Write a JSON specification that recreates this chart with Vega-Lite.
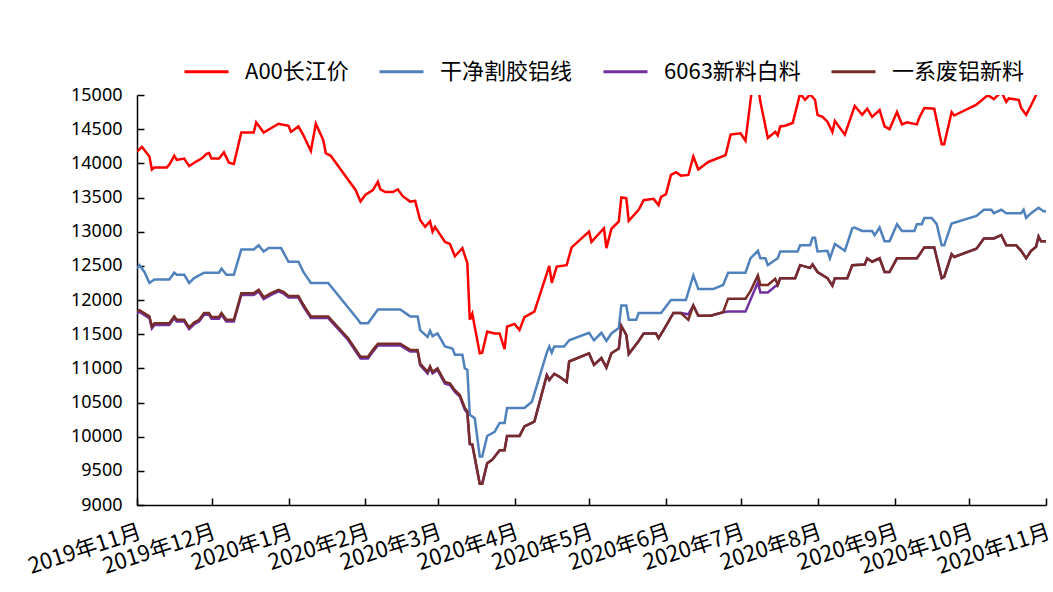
{
  "$schema": "https://vega.github.io/schema/vega-lite/v6.json",
  "width": 909,
  "height": 410,
  "autosize": {"type": "none"},
  "padding": {"left": 137, "top": 95, "right": 7, "bottom": 87},
  "background": "white",
  "datasets": {
    "red": [
      {"d":"2019-11-01","v":14170},{"d":"2019-11-03","v":14240},{"d":"2019-11-06","v":14100},{"d":"2019-11-07","v":13910},{"d":"2019-11-08","v":13940},{"d":"2019-11-13","v":13940},{"d":"2019-11-14","v":13980},{"d":"2019-11-16","v":14110},{"d":"2019-11-17","v":14050},{"d":"2019-11-20","v":14070},{"d":"2019-11-22","v":13960},{"d":"2019-11-25","v":14030},{"d":"2019-11-27","v":14070},{"d":"2019-11-29","v":14140},{"d":"2019-11-30","v":14150},
      {"d":"2019-12-01","v":14070},{"d":"2019-12-04","v":14070},{"d":"2019-12-06","v":14160},{"d":"2019-12-08","v":14010},{"d":"2019-12-10","v":13990},{"d":"2019-12-13","v":14450},{"d":"2019-12-18","v":14450},{"d":"2019-12-19","v":14600},{"d":"2019-12-22","v":14450},{"d":"2019-12-28","v":14580},
      {"d":"2020-01-01","v":14550},{"d":"2020-01-02","v":14460},{"d":"2020-01-05","v":14540},{"d":"2020-01-07","v":14410},{"d":"2020-01-10","v":14180},{"d":"2020-01-12","v":14580},{"d":"2020-01-15","v":14340},{"d":"2020-01-16","v":14150},{"d":"2020-01-18","v":14110},{"d":"2020-01-28","v":13610},{"d":"2020-01-30","v":13440},
      {"d":"2020-02-01","v":13540},{"d":"2020-02-04","v":13610},{"d":"2020-02-06","v":13730},{"d":"2020-02-07","v":13620},{"d":"2020-02-09","v":13580},{"d":"2020-02-12","v":13580},{"d":"2020-02-14","v":13620},{"d":"2020-02-16","v":13520},{"d":"2020-02-19","v":13440},{"d":"2020-02-21","v":13450},{"d":"2020-02-23","v":13170},{"d":"2020-02-25","v":13070},{"d":"2020-02-27","v":13150},{"d":"2020-02-28","v":13000},{"d":"2020-02-29","v":13070},
      {"d":"2020-03-04","v":12850},{"d":"2020-03-06","v":12820},{"d":"2020-03-08","v":12640},{"d":"2020-03-11","v":12760},{"d":"2020-03-13","v":12540},{"d":"2020-03-14","v":11710},{"d":"2020-03-15","v":11800},{"d":"2020-03-18","v":11220},{"d":"2020-03-19","v":11230},{"d":"2020-03-21","v":11540},{"d":"2020-03-24","v":11510},{"d":"2020-03-26","v":11510},{"d":"2020-03-28","v":11280},{"d":"2020-03-29","v":11610},
      {"d":"2020-04-01","v":11650},{"d":"2020-04-03","v":11560},{"d":"2020-04-05","v":11750},{"d":"2020-04-09","v":11830},{"d":"2020-04-15","v":12500},{"d":"2020-04-16","v":12250},{"d":"2020-04-18","v":12490},{"d":"2020-04-22","v":12510},{"d":"2020-04-24","v":12770},
      {"d":"2020-05-01","v":13000},{"d":"2020-05-02","v":12850},{"d":"2020-05-07","v":13050},{"d":"2020-05-08","v":12760},{"d":"2020-05-10","v":13040},{"d":"2020-05-13","v":13150},{"d":"2020-05-14","v":13500},{"d":"2020-05-16","v":13490},{"d":"2020-05-17","v":13160},{"d":"2020-05-21","v":13320},{"d":"2020-05-23","v":13460},{"d":"2020-05-27","v":13480},{"d":"2020-05-29","v":13390},{"d":"2020-05-30","v":13510},
      {"d":"2020-06-01","v":13550},{"d":"2020-06-03","v":13830},{"d":"2020-06-05","v":13870},{"d":"2020-06-07","v":13820},{"d":"2020-06-10","v":13830},{"d":"2020-06-12","v":14100},{"d":"2020-06-14","v":13910},{"d":"2020-06-18","v":14020},{"d":"2020-06-25","v":14120},{"d":"2020-06-27","v":14420},
      {"d":"2020-07-01","v":14440},{"d":"2020-07-03","v":14330},{"d":"2020-07-06","v":15200},{"d":"2020-07-08","v":15150},{"d":"2020-07-09","v":14900},{"d":"2020-07-12","v":14370},{"d":"2020-07-15","v":14460},{"d":"2020-07-16","v":14410},{"d":"2020-07-17","v":14540},{"d":"2020-07-19","v":14550},{"d":"2020-07-22","v":14590},{"d":"2020-07-25","v":15020},{"d":"2020-07-27","v":14930},{"d":"2020-07-29","v":15010},{"d":"2020-07-31","v":14930},
      {"d":"2020-08-01","v":14710},{"d":"2020-08-03","v":14680},{"d":"2020-08-05","v":14610},{"d":"2020-08-07","v":14460},{"d":"2020-08-08","v":14620},{"d":"2020-08-12","v":14420},{"d":"2020-08-16","v":14840},{"d":"2020-08-19","v":14710},{"d":"2020-08-21","v":14800},{"d":"2020-08-23","v":14680},{"d":"2020-08-26","v":14780},{"d":"2020-08-28","v":14540},{"d":"2020-08-30","v":14500},
      {"d":"2020-09-02","v":14750},{"d":"2020-09-04","v":14570},{"d":"2020-09-06","v":14600},{"d":"2020-09-10","v":14570},{"d":"2020-09-11","v":14670},{"d":"2020-09-13","v":14810},{"d":"2020-09-17","v":14800},{"d":"2020-09-20","v":14280},{"d":"2020-09-21","v":14280},{"d":"2020-09-24","v":14750},{"d":"2020-09-25","v":14700},
      {"d":"2020-10-04","v":14860},{"d":"2020-10-08","v":14980},{"d":"2020-10-09","v":14990},{"d":"2020-10-11","v":14940},{"d":"2020-10-13","v":15010},{"d":"2020-10-14","v":15050},{"d":"2020-10-16","v":14900},{"d":"2020-10-17","v":14950},{"d":"2020-10-21","v":14930},{"d":"2020-10-22","v":14810},{"d":"2020-10-24","v":14710},{"d":"2020-10-26","v":14850},{"d":"2020-10-28","v":15000},{"d":"2020-10-30","v":15150},{"d":"2020-11-01","v":15250}
    ],
    "blue": [
      {"d":"2019-11-01","v":12460},{"d":"2019-11-02","v":12510},{"d":"2019-11-04","v":12410},{"d":"2019-11-06","v":12250},{"d":"2019-11-08","v":12300},{"d":"2019-11-14","v":12300},{"d":"2019-11-16","v":12400},{"d":"2019-11-17","v":12370},{"d":"2019-11-20","v":12370},{"d":"2019-11-22","v":12250},{"d":"2019-11-24","v":12320},{"d":"2019-11-28","v":12400},
      {"d":"2019-12-04","v":12400},{"d":"2019-12-05","v":12460},{"d":"2019-12-07","v":12370},{"d":"2019-12-10","v":12370},{"d":"2019-12-13","v":12740},{"d":"2019-12-18","v":12740},{"d":"2019-12-20","v":12800},{"d":"2019-12-22","v":12710},{"d":"2019-12-24","v":12760},{"d":"2019-12-29","v":12760},
      {"d":"2020-01-01","v":12560},{"d":"2020-01-05","v":12560},{"d":"2020-01-07","v":12410},{"d":"2020-01-10","v":12250},{"d":"2020-01-17","v":12250},{"d":"2020-01-29","v":11710},{"d":"2020-01-30","v":11660},
      {"d":"2020-02-02","v":11660},{"d":"2020-02-04","v":11760},{"d":"2020-02-06","v":11860},{"d":"2020-02-15","v":11860},{"d":"2020-02-19","v":11760},{"d":"2020-02-22","v":11760},{"d":"2020-02-23","v":11560},{"d":"2020-02-26","v":11460},{"d":"2020-02-27","v":11550},{"d":"2020-02-28","v":11470},
      {"d":"2020-03-01","v":11510},{"d":"2020-03-04","v":11320},{"d":"2020-03-07","v":11290},{"d":"2020-03-08","v":11200},{"d":"2020-03-11","v":11200},{"d":"2020-03-12","v":11000},{"d":"2020-03-13","v":10980},{"d":"2020-03-14","v":10320},{"d":"2020-03-16","v":10270},{"d":"2020-03-18","v":9710},{"d":"2020-03-19","v":9710},{"d":"2020-03-21","v":10010},{"d":"2020-03-24","v":10070},{"d":"2020-03-26","v":10200},{"d":"2020-03-28","v":10200},{"d":"2020-03-29","v":10420},
      {"d":"2020-04-05","v":10420},{"d":"2020-04-08","v":10510},{"d":"2020-04-14","v":11230},{"d":"2020-04-15","v":11320},{"d":"2020-04-16","v":11230},{"d":"2020-04-17","v":11320},{"d":"2020-04-21","v":11320},{"d":"2020-04-23","v":11410},
      {"d":"2020-05-01","v":11520},{"d":"2020-05-03","v":11410},{"d":"2020-05-06","v":11520},{"d":"2020-05-08","v":11400},{"d":"2020-05-10","v":11510},{"d":"2020-05-13","v":11590},{"d":"2020-05-14","v":11920},{"d":"2020-05-16","v":11920},{"d":"2020-05-17","v":11710},{"d":"2020-05-20","v":11710},{"d":"2020-05-21","v":11810},{"d":"2020-05-30","v":11810},
      {"d":"2020-06-03","v":12000},{"d":"2020-06-09","v":12000},{"d":"2020-06-12","v":12360},{"d":"2020-06-14","v":12160},{"d":"2020-06-20","v":12160},{"d":"2020-06-24","v":12220},{"d":"2020-06-26","v":12400},
      {"d":"2020-07-03","v":12400},{"d":"2020-07-05","v":12610},{"d":"2020-07-08","v":12720},{"d":"2020-07-09","v":12610},{"d":"2020-07-11","v":12610},{"d":"2020-07-12","v":12510},{"d":"2020-07-16","v":12610},{"d":"2020-07-17","v":12710},{"d":"2020-07-24","v":12710},{"d":"2020-07-25","v":12800},{"d":"2020-07-29","v":12800},{"d":"2020-07-30","v":12910},{"d":"2020-07-31","v":12910},
      {"d":"2020-08-01","v":12710},{"d":"2020-08-05","v":12720},{"d":"2020-08-06","v":12610},{"d":"2020-08-08","v":12820},{"d":"2020-08-12","v":12720},{"d":"2020-08-15","v":13050},{"d":"2020-08-16","v":13060},{"d":"2020-08-19","v":13010},{"d":"2020-08-23","v":13010},{"d":"2020-08-24","v":12950},{"d":"2020-08-26","v":13060},{"d":"2020-08-28","v":12860},{"d":"2020-08-30","v":12860},
      {"d":"2020-09-02","v":13110},{"d":"2020-09-04","v":13010},{"d":"2020-09-09","v":13010},{"d":"2020-09-10","v":13110},{"d":"2020-09-12","v":13110},{"d":"2020-09-13","v":13200},{"d":"2020-09-16","v":13200},{"d":"2020-09-18","v":13110},{"d":"2020-09-20","v":12800},{"d":"2020-09-21","v":12800},{"d":"2020-09-24","v":13120},
      {"d":"2020-10-04","v":13230},{"d":"2020-10-07","v":13320},{"d":"2020-10-10","v":13320},{"d":"2020-10-11","v":13270},{"d":"2020-10-14","v":13320},{"d":"2020-10-16","v":13270},{"d":"2020-10-22","v":13270},{"d":"2020-10-23","v":13320},{"d":"2020-10-24","v":13200},{"d":"2020-10-26","v":13270},{"d":"2020-10-29","v":13350},{"d":"2020-10-31","v":13300},{"d":"2020-11-01","v":13300}
    ],
    "purple": [
      {"d":"2019-11-01","v":11805},{"d":"2019-11-02","v":11825},{"d":"2019-11-06","v":11735},{"d":"2019-11-07","v":11585},{"d":"2019-11-08","v":11635},{"d":"2019-11-14","v":11635},{"d":"2019-11-16","v":11735},{"d":"2019-11-17","v":11685},{"d":"2019-11-20","v":11685},{"d":"2019-11-22","v":11575},{"d":"2019-11-24","v":11645},{"d":"2019-11-26","v":11685},{"d":"2019-11-28","v":11785},{"d":"2019-11-30","v":11785},
      {"d":"2019-12-01","v":11725},{"d":"2019-12-04","v":11725},{"d":"2019-12-05","v":11785},{"d":"2019-12-07","v":11685},{"d":"2019-12-10","v":11685},{"d":"2019-12-13","v":12075},{"d":"2019-12-18","v":12075},{"d":"2019-12-20","v":12125},{"d":"2019-12-22","v":12015},{"d":"2019-12-25","v":12075},{"d":"2019-12-28","v":12125},{"d":"2019-12-30","v":12095},
      {"d":"2020-01-01","v":12035},{"d":"2020-01-05","v":12035},{"d":"2020-01-07","v":11905},{"d":"2020-01-10","v":11735},{"d":"2020-01-17","v":11735},{"d":"2020-01-25","v":11415},{"d":"2020-01-30","v":11145},
      {"d":"2020-02-02","v":11145},{"d":"2020-02-04","v":11245},{"d":"2020-02-06","v":11335},{"d":"2020-02-15","v":11335},{"d":"2020-02-19","v":11245},{"d":"2020-02-22","v":11245},{"d":"2020-02-23","v":11045},{"d":"2020-02-26","v":10925},{"d":"2020-02-27","v":11005},{"d":"2020-02-28","v":10925},
      {"d":"2020-03-01","v":10975},{"d":"2020-03-04","v":10775},{"d":"2020-03-06","v":10755},{"d":"2020-03-08","v":10655},{"d":"2020-03-10","v":10585},{"d":"2020-03-12","v":10395},{"d":"2020-03-13","v":10345},{"d":"2020-03-14","v":9890},{"d":"2020-03-15","v":9880},{"d":"2020-03-18","v":9310},{"d":"2020-03-19","v":9310},{"d":"2020-03-21","v":9610},{"d":"2020-03-23","v":9660},{"d":"2020-03-26","v":9800},{"d":"2020-03-28","v":9800},{"d":"2020-03-29","v":10010},
      {"d":"2020-04-03","v":10010},{"d":"2020-04-05","v":10150},{"d":"2020-04-09","v":10220},{"d":"2020-04-14","v":10900},{"d":"2020-04-15","v":10830},{"d":"2020-04-17","v":10920},{"d":"2020-04-19","v":10880},{"d":"2020-04-22","v":10800},{"d":"2020-04-23","v":11100},
      {"d":"2020-05-01","v":11220},{"d":"2020-05-03","v":11050},{"d":"2020-05-06","v":11150},{"d":"2020-05-08","v":11010},{"d":"2020-05-10","v":11220},{"d":"2020-05-13","v":11290},{"d":"2020-05-14","v":11620},{"d":"2020-05-16","v":11490},{"d":"2020-05-17","v":11210},{"d":"2020-05-21","v":11400},{"d":"2020-05-23","v":11510},{"d":"2020-05-28","v":11510},{"d":"2020-05-29","v":11440},{"d":"2020-05-31","v":11560},
      {"d":"2020-06-04","v":11810},{"d":"2020-06-07","v":11810},{"d":"2020-06-10","v":11790},{"d":"2020-06-12","v":11920},{"d":"2020-06-14","v":11770},{"d":"2020-06-19","v":11770},{"d":"2020-06-24","v":11820},{"d":"2020-06-26","v":11830},
      {"d":"2020-07-03","v":11830},{"d":"2020-07-08","v":12260},{"d":"2020-07-09","v":12110},{"d":"2020-07-12","v":12110},{"d":"2020-07-15","v":12200},{"d":"2020-07-16","v":12220},{"d":"2020-07-17","v":12320},{"d":"2020-07-23","v":12320},{"d":"2020-07-25","v":12510},{"d":"2020-07-29","v":12470},{"d":"2020-07-30","v":12520},
      {"d":"2020-08-01","v":12410},{"d":"2020-08-05","v":12320},{"d":"2020-08-07","v":12210},{"d":"2020-08-08","v":12320},{"d":"2020-08-13","v":12320},{"d":"2020-08-15","v":12510},{"d":"2020-08-20","v":12520},{"d":"2020-08-21","v":12610},{"d":"2020-08-23","v":12560},{"d":"2020-08-26","v":12610},{"d":"2020-08-28","v":12410},{"d":"2020-08-30","v":12410},
      {"d":"2020-09-02","v":12610},{"d":"2020-09-10","v":12610},{"d":"2020-09-11","v":12660},{"d":"2020-09-13","v":12770},{"d":"2020-09-17","v":12770},{"d":"2020-09-20","v":12320},{"d":"2020-09-21","v":12340},{"d":"2020-09-24","v":12670},{"d":"2020-09-25","v":12630},
      {"d":"2020-10-04","v":12750},{"d":"2020-10-07","v":12900},{"d":"2020-10-11","v":12900},{"d":"2020-10-14","v":12950},{"d":"2020-10-16","v":12800},{"d":"2020-10-20","v":12800},{"d":"2020-10-22","v":12720},{"d":"2020-10-24","v":12610},{"d":"2020-10-26","v":12720},{"d":"2020-10-28","v":12780},{"d":"2020-10-29","v":12930},{"d":"2020-10-30","v":12860},{"d":"2020-11-01","v":12860}
    ],
    "brown": [
      {"d":"2019-11-01","v":11830},{"d":"2019-11-02","v":11850},{"d":"2019-11-06","v":11760},{"d":"2019-11-07","v":11610},{"d":"2019-11-08","v":11660},{"d":"2019-11-14","v":11660},{"d":"2019-11-16","v":11760},{"d":"2019-11-17","v":11710},{"d":"2019-11-20","v":11710},{"d":"2019-11-22","v":11600},{"d":"2019-11-24","v":11670},{"d":"2019-11-26","v":11710},{"d":"2019-11-28","v":11810},{"d":"2019-11-30","v":11810},
      {"d":"2019-12-01","v":11750},{"d":"2019-12-04","v":11750},{"d":"2019-12-05","v":11810},{"d":"2019-12-07","v":11710},{"d":"2019-12-10","v":11710},{"d":"2019-12-13","v":12100},{"d":"2019-12-18","v":12100},{"d":"2019-12-20","v":12150},{"d":"2019-12-22","v":12040},{"d":"2019-12-25","v":12100},{"d":"2019-12-28","v":12150},{"d":"2019-12-30","v":12120},
      {"d":"2020-01-01","v":12060},{"d":"2020-01-05","v":12060},{"d":"2020-01-07","v":11930},{"d":"2020-01-10","v":11760},{"d":"2020-01-17","v":11760},{"d":"2020-01-25","v":11440},{"d":"2020-01-30","v":11170},
      {"d":"2020-02-02","v":11170},{"d":"2020-02-04","v":11270},{"d":"2020-02-06","v":11360},{"d":"2020-02-15","v":11360},{"d":"2020-02-19","v":11270},{"d":"2020-02-22","v":11270},{"d":"2020-02-23","v":11070},{"d":"2020-02-26","v":10950},{"d":"2020-02-27","v":11030},{"d":"2020-02-28","v":10950},
      {"d":"2020-03-01","v":11000},{"d":"2020-03-04","v":10800},{"d":"2020-03-06","v":10780},{"d":"2020-03-08","v":10680},{"d":"2020-03-10","v":10610},{"d":"2020-03-12","v":10420},{"d":"2020-03-13","v":10370},{"d":"2020-03-14","v":9900},{"d":"2020-03-15","v":9890},{"d":"2020-03-18","v":9310},{"d":"2020-03-19","v":9310},{"d":"2020-03-21","v":9610},{"d":"2020-03-23","v":9660},{"d":"2020-03-26","v":9800},{"d":"2020-03-28","v":9800},{"d":"2020-03-29","v":10010},
      {"d":"2020-04-03","v":10010},{"d":"2020-04-05","v":10150},{"d":"2020-04-09","v":10220},{"d":"2020-04-14","v":10900},{"d":"2020-04-15","v":10830},{"d":"2020-04-17","v":10920},{"d":"2020-04-19","v":10880},{"d":"2020-04-22","v":10800},{"d":"2020-04-23","v":11100},
      {"d":"2020-05-01","v":11220},{"d":"2020-05-03","v":11050},{"d":"2020-05-06","v":11150},{"d":"2020-05-08","v":11010},{"d":"2020-05-10","v":11220},{"d":"2020-05-13","v":11290},{"d":"2020-05-14","v":11620},{"d":"2020-05-16","v":11490},{"d":"2020-05-17","v":11210},{"d":"2020-05-21","v":11400},{"d":"2020-05-23","v":11510},{"d":"2020-05-28","v":11510},{"d":"2020-05-29","v":11440},{"d":"2020-05-31","v":11560},
      {"d":"2020-06-04","v":11810},{"d":"2020-06-07","v":11810},{"d":"2020-06-10","v":11710},{"d":"2020-06-12","v":11920},{"d":"2020-06-14","v":11770},{"d":"2020-06-19","v":11770},{"d":"2020-06-24","v":11820},{"d":"2020-06-26","v":12020},
      {"d":"2020-07-03","v":12020},{"d":"2020-07-05","v":12130},{"d":"2020-07-08","v":12360},{"d":"2020-07-09","v":12220},{"d":"2020-07-12","v":12220},{"d":"2020-07-15","v":12310},{"d":"2020-07-16","v":12220},{"d":"2020-07-17","v":12320},{"d":"2020-07-23","v":12320},{"d":"2020-07-25","v":12510},{"d":"2020-07-29","v":12470},{"d":"2020-07-30","v":12520},
      {"d":"2020-08-01","v":12410},{"d":"2020-08-05","v":12320},{"d":"2020-08-07","v":12210},{"d":"2020-08-08","v":12320},{"d":"2020-08-13","v":12320},{"d":"2020-08-15","v":12510},{"d":"2020-08-20","v":12520},{"d":"2020-08-21","v":12610},{"d":"2020-08-23","v":12560},{"d":"2020-08-26","v":12610},{"d":"2020-08-28","v":12410},{"d":"2020-08-30","v":12410},
      {"d":"2020-09-02","v":12610},{"d":"2020-09-10","v":12610},{"d":"2020-09-11","v":12660},{"d":"2020-09-13","v":12770},{"d":"2020-09-17","v":12770},{"d":"2020-09-20","v":12320},{"d":"2020-09-21","v":12340},{"d":"2020-09-24","v":12670},{"d":"2020-09-25","v":12630},
      {"d":"2020-10-04","v":12750},{"d":"2020-10-07","v":12900},{"d":"2020-10-11","v":12900},{"d":"2020-10-14","v":12950},{"d":"2020-10-16","v":12800},{"d":"2020-10-20","v":12800},{"d":"2020-10-22","v":12720},{"d":"2020-10-24","v":12610},{"d":"2020-10-26","v":12720},{"d":"2020-10-28","v":12780},{"d":"2020-10-29","v":12930},{"d":"2020-10-30","v":12860},{"d":"2020-11-01","v":12860}
    ]
  },
  "encoding": {
    "x": {
      "field": "d",
      "type": "temporal",
      "scale": {
        "type": "utc",
        "domain": [{"year": 2019, "month": 11, "date": 1, "utc": true}, {"year": 2020, "month": 11, "date": 1, "utc": true}],
        "nice": false
      },
      "axis": {
        "title": null,
        "format": "%Y年%-m月",
        "tickCount": {"interval": "month", "step": 1},
        "labelAngle": -18,
        "labelAlign": "right",
        "labelBaseline": "top",
        "labelPadding": 23,
        "tickSize": -7,
        "labelFont": "Noto Sans CJK SC",
        "labelFontSize": 22,
        "labelColor": "#000000",
        "domainColor": "#000000",
        "tickColor": "#000000",
        "domainWidth": 1.5,
        "tickWidth": 1.5,
        "grid": false,
        "labelOverlap": false,
        "labelFlush": false,
        "labelBound": false
      }
    },
    "y": {
      "field": "v",
      "type": "quantitative",
      "scale": {"domain": [9000, 15000], "nice": false, "zero": false},
      "axis": {
        "title": null,
        "values": [9000, 9500, 10000, 10500, 11000, 11500, 12000, 12500, 13000, 13500, 14000, 14500, 15000],
        "format": "d",
        "tickSize": -7,
        "labelPadding": 22,
        "labelFont": "Noto Sans",
        "labelFontSize": 18,
        "labelColor": "#000000",
        "domainColor": "#000000",
        "tickColor": "#000000",
        "domainWidth": 1.5,
        "tickWidth": 1.5,
        "grid": false
      }
    }
  },
  "layer": [
    {
      "data": {"name": "red"},
      "mark": {"type": "line", "strokeWidth": 2.5, "clip": true},
      "encoding": {
        "color": {
          "datum": "A00长江价",
          "type": "nominal",
          "scale": {
            "domain": ["A00长江价", "干净割胶铝线", "6063新料白料", "一系废铝新料"],
            "range": ["#FF0000", "#4F81BD", "#7030A0", "#772C2A"]
          },
          "legend": {
            "orient": "none",
            "legendX": 46,
            "legendY": -47,
            "direction": "horizontal",
            "columns": 4,
            "title": null,
            "symbolType": "stroke",
            "symbolSize": 1936,
            "symbolStrokeWidth": 3,
            "labelFont": "Noto Sans CJK SC",
            "labelFontSize": 22,
            "labelColor": "#000000",
            "labelOffset": 15,
            "labelLimit": 400,
            "columnPadding": 24
          }
        }
      }
    },
    {
      "data": {"name": "blue"},
      "mark": {"type": "line", "strokeWidth": 2.5, "clip": true},
      "encoding": {"color": {"datum": "干净割胶铝线", "type": "nominal"}}
    },
    {
      "data": {"name": "purple"},
      "mark": {"type": "line", "strokeWidth": 2.5, "clip": true},
      "encoding": {"color": {"datum": "6063新料白料", "type": "nominal"}}
    },
    {
      "data": {"name": "brown"},
      "mark": {"type": "line", "strokeWidth": 2.5, "clip": true},
      "encoding": {"color": {"datum": "一系废铝新料", "type": "nominal"}}
    }
  ],
  "config": {
    "view": {"stroke": null},
    "font": "Noto Sans"
  }
}
